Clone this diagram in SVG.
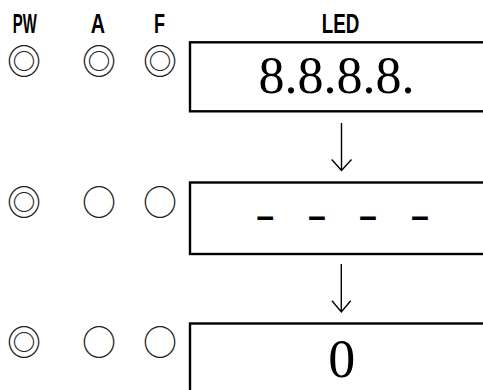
<svg xmlns="http://www.w3.org/2000/svg" width="483" height="390" viewBox="0 0 483 390">
<style>
.lbl{font-family:"Liberation Sans","DejaVu Sans",sans-serif;font-size:27px;font-weight:bold;fill:#000;text-anchor:start}
.sym{font-family:"Noto Sans CJK JP","DejaVu Sans",sans-serif;font-size:34px;fill:#222;text-anchor:middle}
.box{fill:#fff;stroke:#000;stroke-width:2.4}
.disp{font-family:"Liberation Serif","Times New Roman",serif;fill:#000}
.dash{font-family:"Liberation Sans",sans-serif;font-size:30px;font-weight:bold;fill:#000;text-anchor:start}
.conn{fill:none;stroke:#000;stroke-width:1.4}
</style>
<rect width="483" height="390" fill="#fff"/>
<g id="labels">
<text class="lbl" x="12.7" y="32.5" textLength="24" lengthAdjust="spacingAndGlyphs">PW</text>
<text class="lbl" x="90.7" y="32.5" textLength="14.3" lengthAdjust="spacingAndGlyphs">A</text>
<text class="lbl" x="154" y="32.5" textLength="11" lengthAdjust="spacingAndGlyphs">F</text>
<text class="lbl" x="321.7" y="32.5" textLength="37.6" lengthAdjust="spacingAndGlyphs">LED</text>
</g>
<g id="indicators-1">
<text class="sym" x="24" y="74">◎</text>
<text class="sym" x="99" y="74">◎</text>
<text class="sym" x="160" y="74">◎</text>
</g>
<g id="indicators-2">
<text class="sym" x="24" y="214.5">◎</text>
<text class="sym" x="99" y="214.5">○</text>
<text class="sym" x="160" y="214.5">○</text>
</g>
<g id="indicators-3">
<text class="sym" x="24" y="355">◎</text>
<text class="sym" x="99" y="355">○</text>
<text class="sym" x="160" y="355">○</text>
</g>
<g id="led-1">
<rect class="box" x="190" y="42.3" width="310" height="69"/>
<text class="disp" x="336.5" y="93.3" font-size="52" text-anchor="middle">8.8.8.8.</text>
</g>
<g id="led-2">
<rect class="box" x="190" y="182.5" width="310" height="71.5"/>
<text class="dash" x="255" y="226" textLength="20.5" lengthAdjust="spacingAndGlyphs">-</text>
<text class="dash" x="306.7" y="226" textLength="20.5" lengthAdjust="spacingAndGlyphs">-</text>
<text class="dash" x="357.7" y="226" textLength="20.5" lengthAdjust="spacingAndGlyphs">-</text>
<text class="dash" x="409.7" y="226" textLength="20.5" lengthAdjust="spacingAndGlyphs">-</text>
</g>
<g id="led-3">
<rect class="box" x="190" y="323.5" width="310" height="80"/>
<text class="disp" x="341.7" y="376.7" font-size="54" text-anchor="middle">0</text>
</g>
<g id="connectors">
<path class="conn" d="M341.5 123 V170.5 M331.7 159.5 L341.5 170.5 L351.5 159.5"/>
<path class="conn" d="M341.3 264 V312 M332 300.7 L341.3 312 L350.7 300.7"/>
</g>
</svg>
